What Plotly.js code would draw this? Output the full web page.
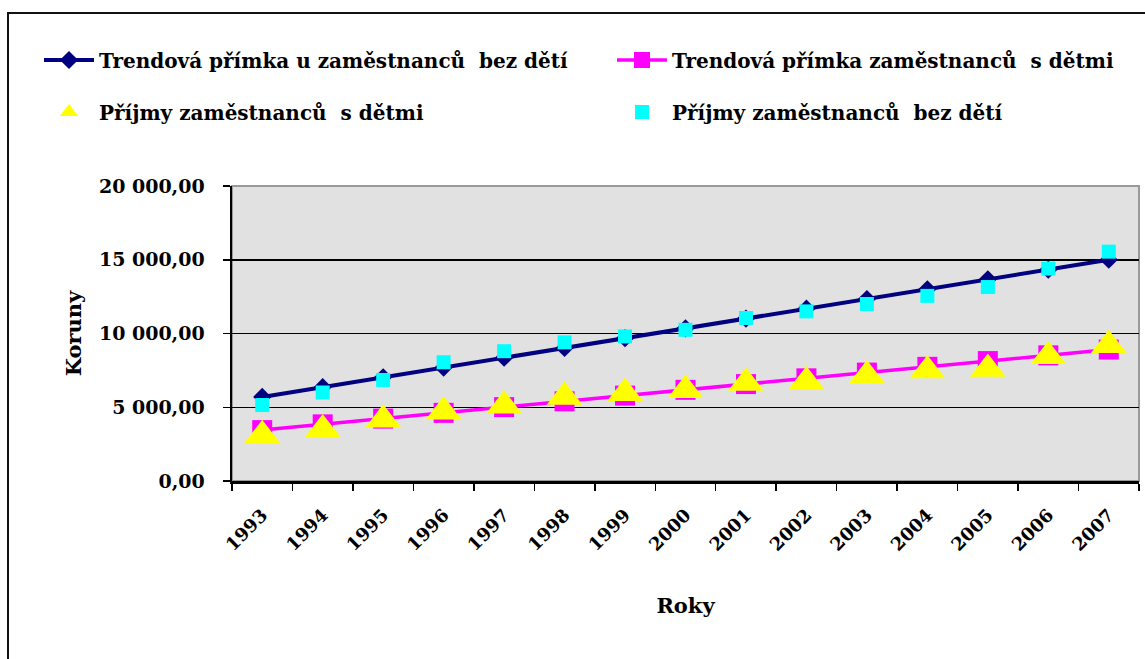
<!DOCTYPE html>
<html>
<head>
<meta charset="utf-8">
<script src="https://cdn.plot.ly/plotly-3.0.1.min.js"></script>
<style>
html,body{margin:0;padding:0;background:#fff;}
#chart{width:1145px;height:659px;position:absolute;left:0;top:0;}
#frame{position:absolute;left:7px;top:12px;width:1160px;height:680px;border:2px solid #111;pointer-events:none;}
</style>
</head>
<body>
<div id="chart"></div>
<div id="frame"></div>
<script>
const years = ['1993','1994','1995','1996','1997','1998','1999','2000','2001','2002','2003','2004','2005','2006','2007'];
const trendBezDeti = [5700,6360,7030,7690,8360,9020,9680,10350,11010,11680,12340,13000,13670,14330,15000];
const trendSDetmi  = [3450,3840,4230,4620,5010,5400,5790,6180,6570,6960,7350,7740,8130,8520,8910];
const prijmySDetmi = [3100,3500,4150,4700,5100,5700,5950,6150,6650,6750,7150,7500,7600,8450,9200];
const prijmyBezDeti= [5150,6000,6850,8050,8800,9400,9800,10250,11050,11500,12000,12550,13150,14400,15550];
const names = ['Trendová přímka u zaměstnanců\u00a0 bez dětí','Trendová přímka zaměstnanců\u00a0 s dětmi','Příjmy zaměstnanců\u00a0 s dětmi','Příjmy zaměstnanců\u00a0 bez dětí'];

const FONT = 'DejaVu Serif, Liberation Serif, serif';
const traces = [
  {x: years, y: trendBezDeti, name: names[0], type:'scatter', mode:'lines+markers',
   line:{color:'#000080', width:4}, marker:{symbol:'diamond', size:14, color:'#000080'}, legend:'legend'},
  {x: years, y: trendSDetmi, name: names[1], type:'scatter', mode:'lines+markers',
   line:{color:'#FF00FF', width:3.5}, marker:{symbol:'square', size:20, color:'#FF00FF'}, legend:'legend2'},
  {x: years, y: prijmySDetmi, name: names[2], type:'scatter', mode:'markers',
   marker:{symbol:'triangle-up', size:31, color:'#FFFF00'}, legend:'legend3'},
  {x: years, y: prijmyBezDeti, name: names[3], type:'scatter', mode:'markers',
   marker:{symbol:'square', size:14, color:'#00FFFF'}, legend:'legend4'}
];

const W = 907, H = 295, L = 232, T = 186;
function px2x(p){ return (p - L) / W; }
function py2y(p){ return (T + H - p) / H; }
const legBase = {font:{family:FONT, size:20, color:'#000', weight:'bold'}, bgcolor:'rgba(0,0,0,0)', xanchor:'left', yanchor:'middle', itemwidth:50};

const layout = {
  width:1145, height:659,
  margin:{l:L, t:T, r:1145-L-W, b:659-T-H},
  paper_bgcolor:'#fff', plot_bgcolor:'#E1E1E1',
  separators:', ',
  font:{family:FONT, color:'#000'},
  showlegend:true,
  legend: Object.assign({}, legBase, {x:px2x(39), y:py2y(60)}),
  legend2: Object.assign({}, legBase, {x:px2x(612), y:py2y(60)}),
  legend3: Object.assign({}, legBase, {x:px2x(39), y:py2y(112)}),
  legend4: Object.assign({}, legBase, {x:px2x(612), y:py2y(112)}),
  xaxis:{type:'category', range:[-0.5, 14.5], autorange:false, tickson:'boundaries', ticks:'outside', ticklen:7, tickwidth:1.5, tickcolor:'#000',
    showline:true, linecolor:'#000', linewidth:2.5, showgrid:false, tickangle:-45,
    tickfont:{family:FONT, size:18, weight:'bold'}, ticklabelstandoff:14,
    title:{text:'Roky', font:{family:FONT, size:21, weight:'bold'}, standoff:45}},
  yaxis:{range:[0,20000], autorange:false, tickvals:[0,5000,10000,15000,20000], tickformat:',.2f',
    ticks:'outside', ticklen:7, tickwidth:1.5, tickcolor:'#000',
    showline:true, linecolor:'#000', linewidth:2.5, showgrid:true, gridcolor:'#000', gridwidth:1.5,
    zeroline:false, tickfont:{family:FONT, size:19, weight:'bold'}, ticklabelstandoff:14,
    title:{text:'Koruny', font:{family:FONT, size:21, weight:'bold'}, standoff:12}},
  shapes:[{type:'rect', xref:'paper', yref:'paper', x0:0, x1:1, y0:0, y1:1, line:{color:'#9a9a9a', width:2}, layer:'below'}]
};
Plotly.newPlot('chart', traces, layout, {displayModeBar:false, staticPlot:true});
</script>
</body>
</html>
